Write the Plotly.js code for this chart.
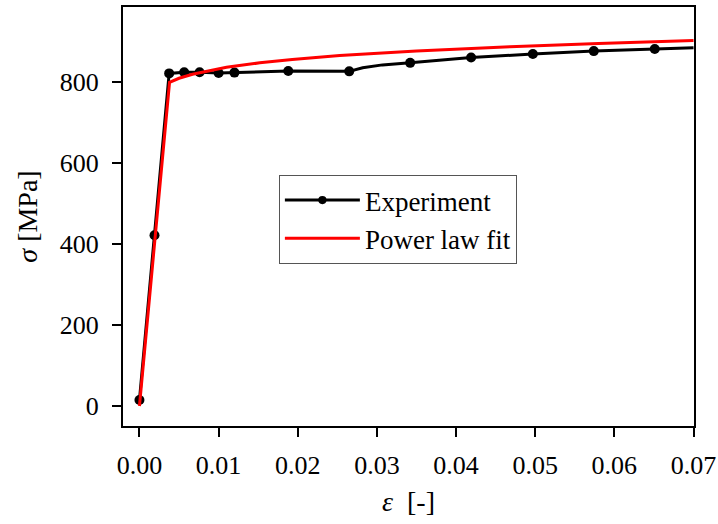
<!DOCTYPE html>
<html>
<head>
<meta charset="utf-8">
<script src="https://cdn.plot.ly/plotly-3.0.1.min.js"></script>
<style>html,body{margin:0;padding:0;background:#fff;}</style>
</head>
<body>
<div id="chart" style="width:718px;height:524px;"></div>
<script>
// Experiment (markers where size > 0)
const expStrain = [0, 0.0019, 0.00375, 0.00565, 0.0076, 0.0100, 0.0120, 0.0188, 0.0265, 0.0282, 0.0307, 0.0342, 0.0419, 0.0497, 0.0574, 0.0651, 0.0700];
const expStress = [15, 421, 820, 823, 823, 821, 822, 826, 825, 834, 841, 846, 859, 868, 875, 880, 883];
const expMarked = [1, 1, 1, 1, 1, 1, 1, 1, 1, 0, 0, 1, 1, 1, 1, 1, 0];

// Power law fit
const fitStrain = [0, 0.0038, 0.005, 0.0067, 0.011, 0.0152, 0.0193, 0.0253, 0.035, 0.0468, 0.058, 0.070];
const fitStress = [0, 798, 808, 818, 835, 846, 854, 864, 875, 886, 894, 901];

const xTicks = [0, 0.01, 0.02, 0.03, 0.04, 0.05, 0.06, 0.07];
const xTickLabels = ["0.00", "0.01", "0.02", "0.03", "0.04", "0.05", "0.06", "0.07"];
const yTicks = [0, 200, 400, 600, 800];
const yTickLabels = ["0", "200", "400", "600", "800"];

const FONT = "Liberation Serif, Times New Roman, serif";

const traces = [
  {
    x: expStrain, y: expStress, name: "Experiment", type: "scatter", mode: "lines+markers",
    line: {color: "#000000", width: 3},
    marker: {color: "#000000", opacity: 1, line: {width: 0}, size: expMarked.map(m => m ? 10 : 0)}
  },
  {
    x: fitStrain, y: fitStress, name: "Power law fit", type: "scatter", mode: "lines",
    line: {color: "#ff0000", width: 3}
  }
];

const axisCommon = {
  showline: true, linecolor: "#000", linewidth: 2, mirror: true,
  ticks: "outside", ticklen: 9, tickwidth: 2, tickcolor: "#000",
  showgrid: false, zeroline: false,
  tickfont: {family: FONT, size: 26, color: "#000"},
  tickmode: "array"
};

const layout = {
  width: 718, height: 524,
  margin: {l: 123, r: 24, t: 7, b: 98},
  paper_bgcolor: "#fff", plot_bgcolor: "#fff",
  font: {family: FONT, color: "#000"},
  xaxis: Object.assign({}, axisCommon, {
    range: [-0.00208, 0.07006],
    tickvals: xTicks, ticktext: xTickLabels,
    ticklabelstandoff: 6,
    title: {text: "<i>ε</i>  [-]", font: {family: FONT, size: 28, color: "#000"}, standoff: 12}
  }),
  yaxis: Object.assign({}, axisCommon, {
    range: [-49.3, 983.7],
    tickvals: yTicks, ticktext: yTickLabels,
    ticklabelstandoff: 8,
    title: {text: "<i>σ</i> [MPa]", font: {family: FONT, size: 28, color: "#000"}, standoff: 14}
  }),
  showlegend: true,
  legend: {
    x: 0.273, y: 0.599, xanchor: "left", yanchor: "top",
    bgcolor: "rgba(255,255,255,0.8)", bordercolor: "#555", borderwidth: 1,
    itemwidth: 75,
    font: {family: FONT, size: 27, color: "#000"}
  }
};

Plotly.newPlot("chart", traces, layout, {staticPlot: true, displayModeBar: false});
</script>
</body>
</html>
